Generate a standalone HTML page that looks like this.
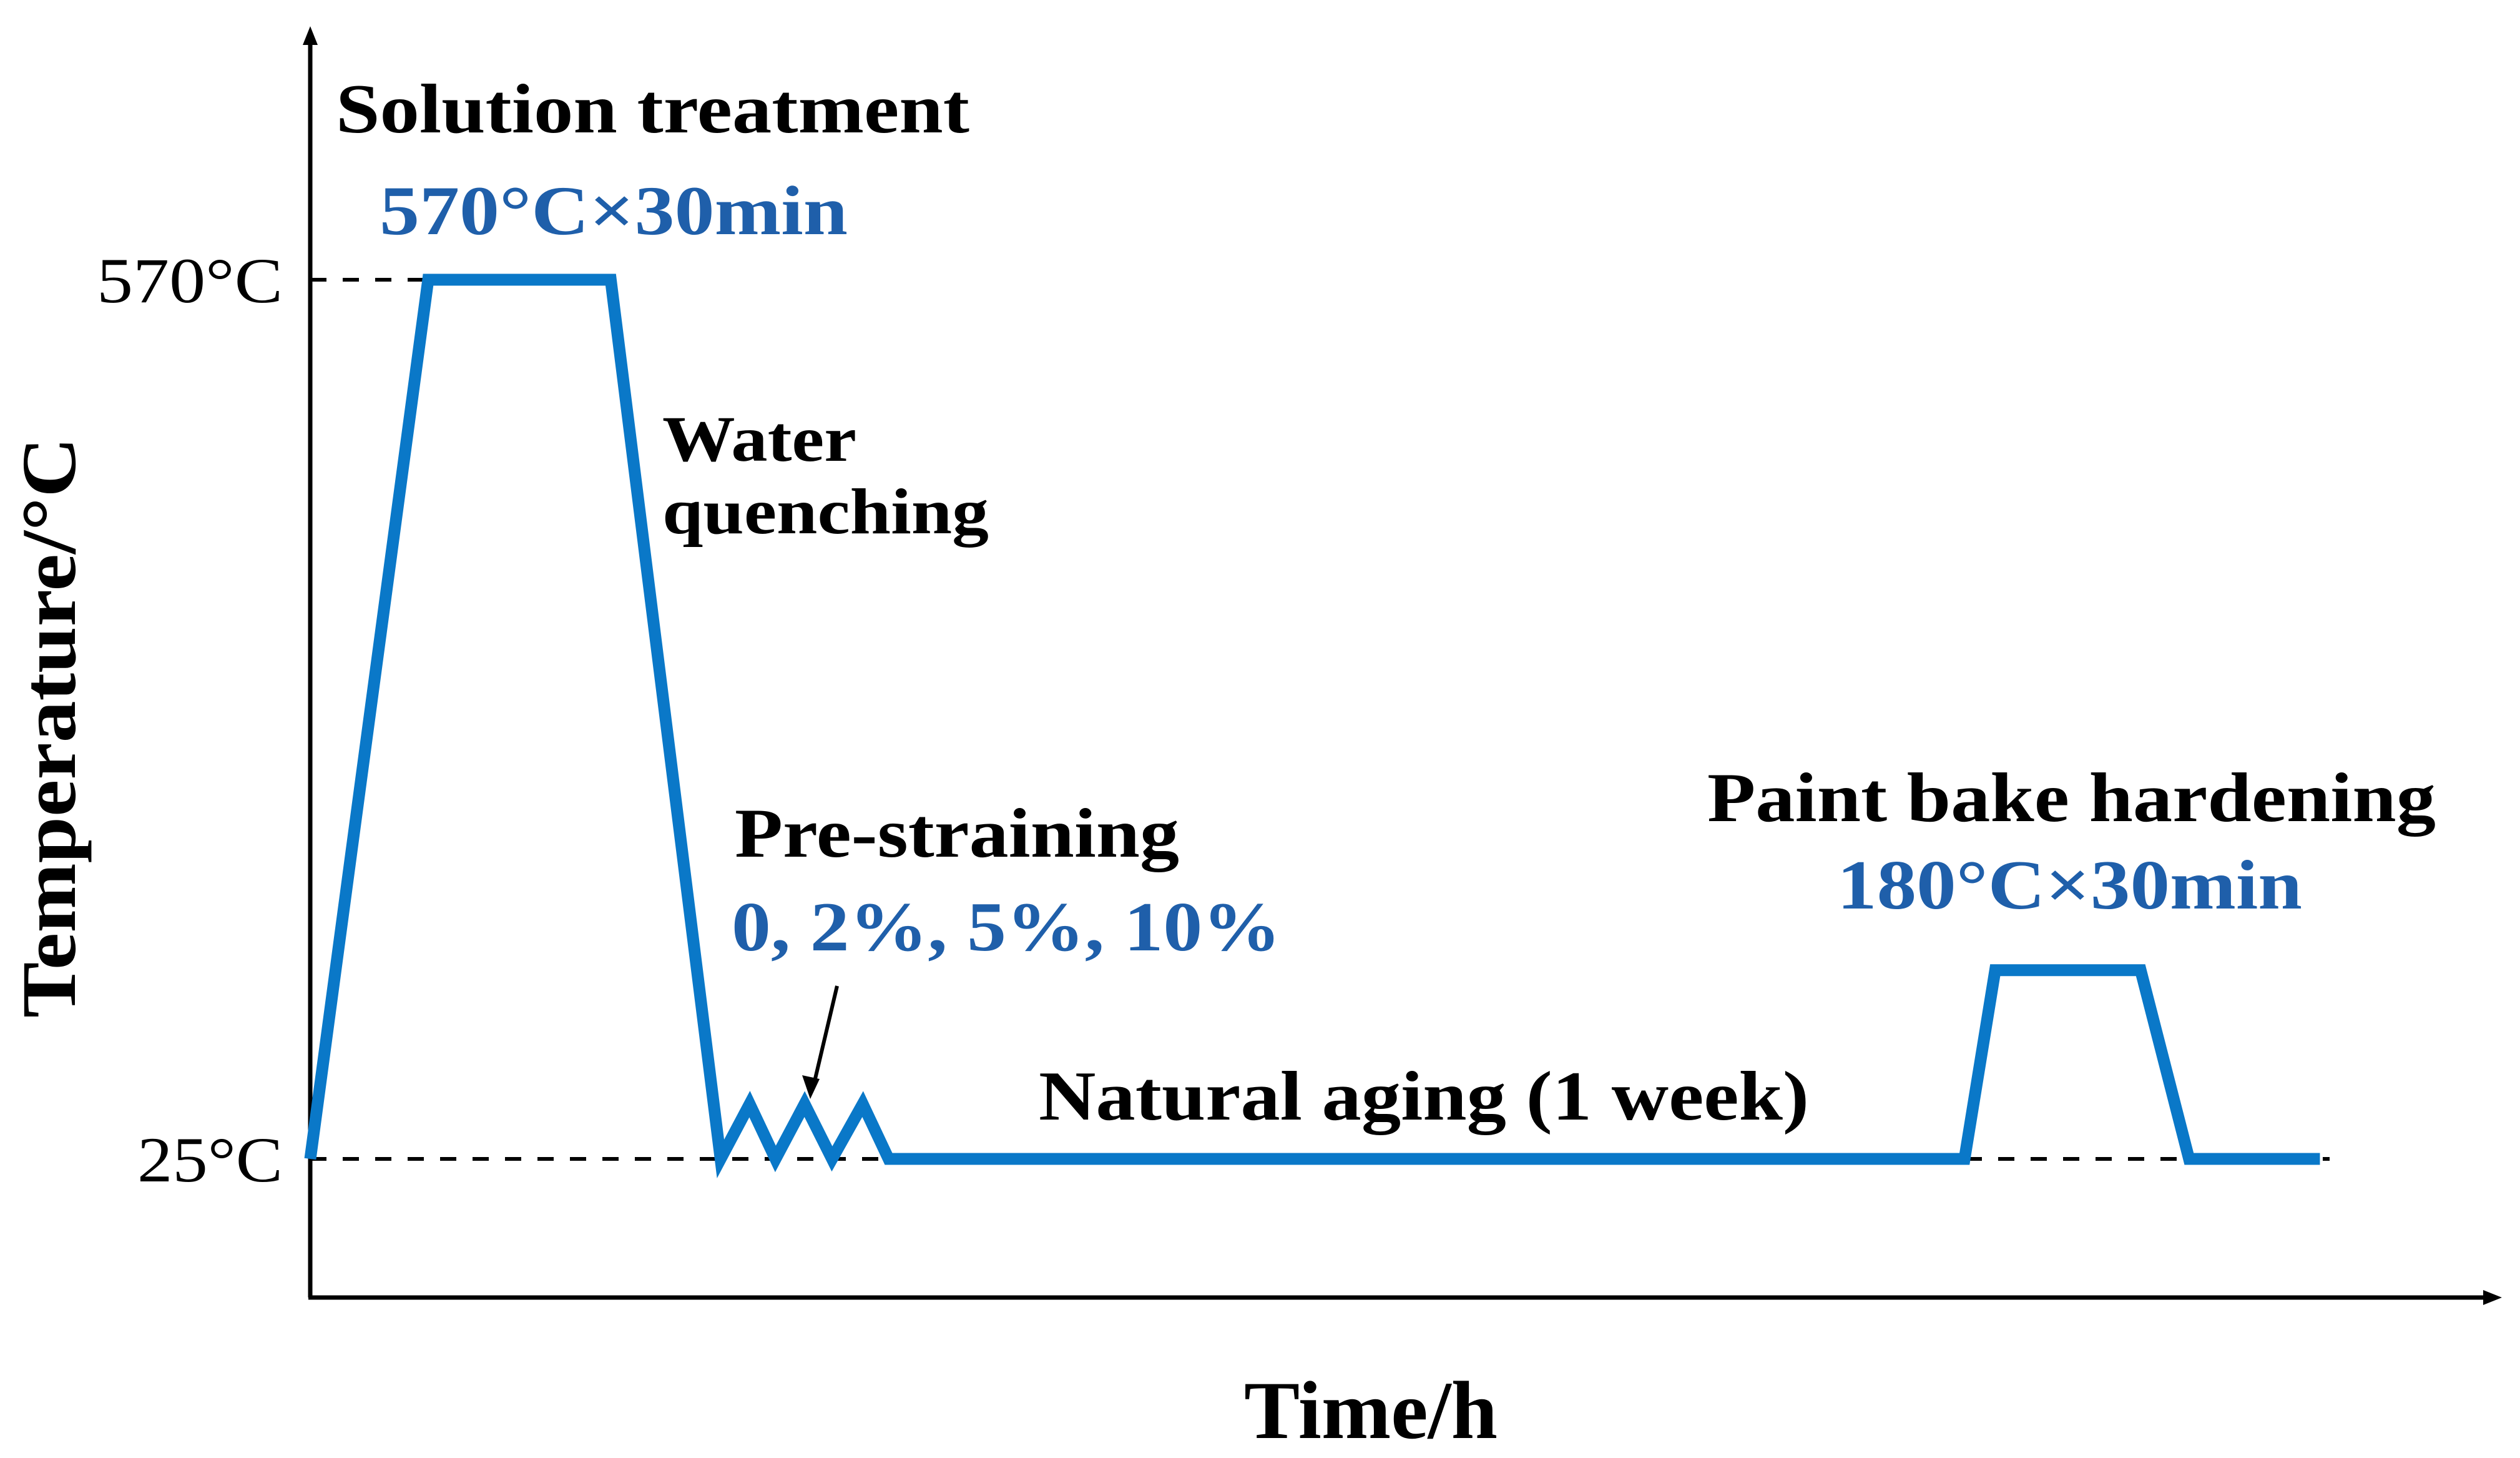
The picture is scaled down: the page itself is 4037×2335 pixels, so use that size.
<!DOCTYPE html>
<html><head><meta charset="utf-8">
<style>
html,body{margin:0;padding:0;background:#fff;}
svg{display:block;}
text{font-family:"Liberation Serif",serif;}
</style></head>
<body>
<svg id="chart" width="4037" height="2335" viewBox="0 0 4037 2335">
  <g id="axes">
    <line x1="497" y1="2078" x2="497" y2="60" stroke="#000" stroke-width="7"/>
    <path d="M497,42 L485,72 L509,72 z" fill="#000"/>
    <line x1="494" y1="2078" x2="3985" y2="2078" stroke="#000" stroke-width="7"/>
    <path d="M4008,2078 L3978,2066 L3978,2090 z" fill="#000"/>
  </g>
  <g id="refs"></g>
  <g id="series"></g>
  <text x="453" y="484" font-size="103" text-anchor="end" textLength="298" lengthAdjust="spacingAndGlyphs">570°C</text>
  <text x="453" y="1892" font-size="103" text-anchor="end" textLength="233" lengthAdjust="spacingAndGlyphs">25°C</text>
  <text transform="translate(120,1165) rotate(-90)" font-size="124" font-weight="bold" text-anchor="middle" textLength="930" lengthAdjust="spacingAndGlyphs">Temperature/°C</text>
  <text x="1993" y="2303" font-size="132" font-weight="bold" textLength="406" lengthAdjust="spacingAndGlyphs">Time/h</text>
  <text x="538" y="212" font-size="112" font-weight="bold" textLength="1015" lengthAdjust="spacingAndGlyphs">Solution treatment</text>
  <text x="608" y="375" font-size="112" font-weight="bold" fill="#1f5faa" textLength="750" lengthAdjust="spacingAndGlyphs">570°C×30min</text>
  <text x="1061" y="738" font-size="104" font-weight="bold" textLength="311" lengthAdjust="spacingAndGlyphs">Water</text>
  <text x="1061" y="854" font-size="104" font-weight="bold" textLength="523" lengthAdjust="spacingAndGlyphs">quenching</text>
  <text x="1177" y="1372" font-size="112" font-weight="bold" textLength="712" lengthAdjust="spacingAndGlyphs">Pre-straining</text>
  <text x="1172" y="1522" font-size="112" font-weight="bold" fill="#1f5faa" textLength="880" lengthAdjust="spacingAndGlyphs">0, 2%, 5%, 10%</text>
  <line x1="1341" y1="1579" x2="1303" y2="1740" stroke="#000" stroke-width="6"/>
  <path d="M1298,1760 L1285,1722 L1313,1728 z" fill="#000"/>
  <text x="1664" y="1793" font-size="112" font-weight="bold" textLength="1234" lengthAdjust="spacingAndGlyphs">Natural aging (1 week)</text>
  <text x="2735" y="1315" font-size="112" font-weight="bold" textLength="1167" lengthAdjust="spacingAndGlyphs">Paint bake hardening</text>
  <text x="2943" y="1455" font-size="112" font-weight="bold" fill="#1f5faa" textLength="745" lengthAdjust="spacingAndGlyphs">180°C×30min</text>
<script>
// schematic data: time (arbitrary units), temperature level (schematic °C)
const times = [0, 73, 186, 254, 272, 288, 306, 323, 342, 358, 1024, 1043, 1133, 1163, 1244];
const temps = [25, 570, 570, 25, 59, 25, 59, 25, 59, 25, 25, 142, 142, 25, 25];
const refTemps = [570, 25];
const refEnds = [73, 1250];

const X0 = 497, XS = 2.588;
const Y25 = 1856, Y570 = 448;
function xScale(t){ return X0 + t * XS; }
function yScale(v){ return Y25 - (v - 25) * (Y25 - Y570) / (570 - 25); }

const NS = "http://www.w3.org/2000/svg";
const refs = document.getElementById('refs');
refTemps.forEach((v, i) => {
  const l = document.createElementNS(NS, 'line');
  l.setAttribute('x1', X0);
  l.setAttribute('x2', xScale(refEnds[i]));
  l.setAttribute('y1', yScale(v));
  l.setAttribute('y2', yScale(v));
  l.setAttribute('stroke', '#000');
  l.setAttribute('stroke-width', '6');
  l.setAttribute('stroke-dasharray', '26 26');
  
  
  refs.appendChild(l);
});

const series = document.getElementById('series');
const pts = times.map((t, i) => xScale(t) + ',' + yScale(temps[i])).join(' ');
const pl = document.createElementNS(NS, 'polyline');
pl.setAttribute('points', pts);
pl.setAttribute('fill', 'none');
pl.setAttribute('stroke', '#0a78c8');
pl.setAttribute('stroke-width', '19');
pl.setAttribute('stroke-linejoin', 'miter');


series.appendChild(pl);
</script>
</svg>
</body></html>
